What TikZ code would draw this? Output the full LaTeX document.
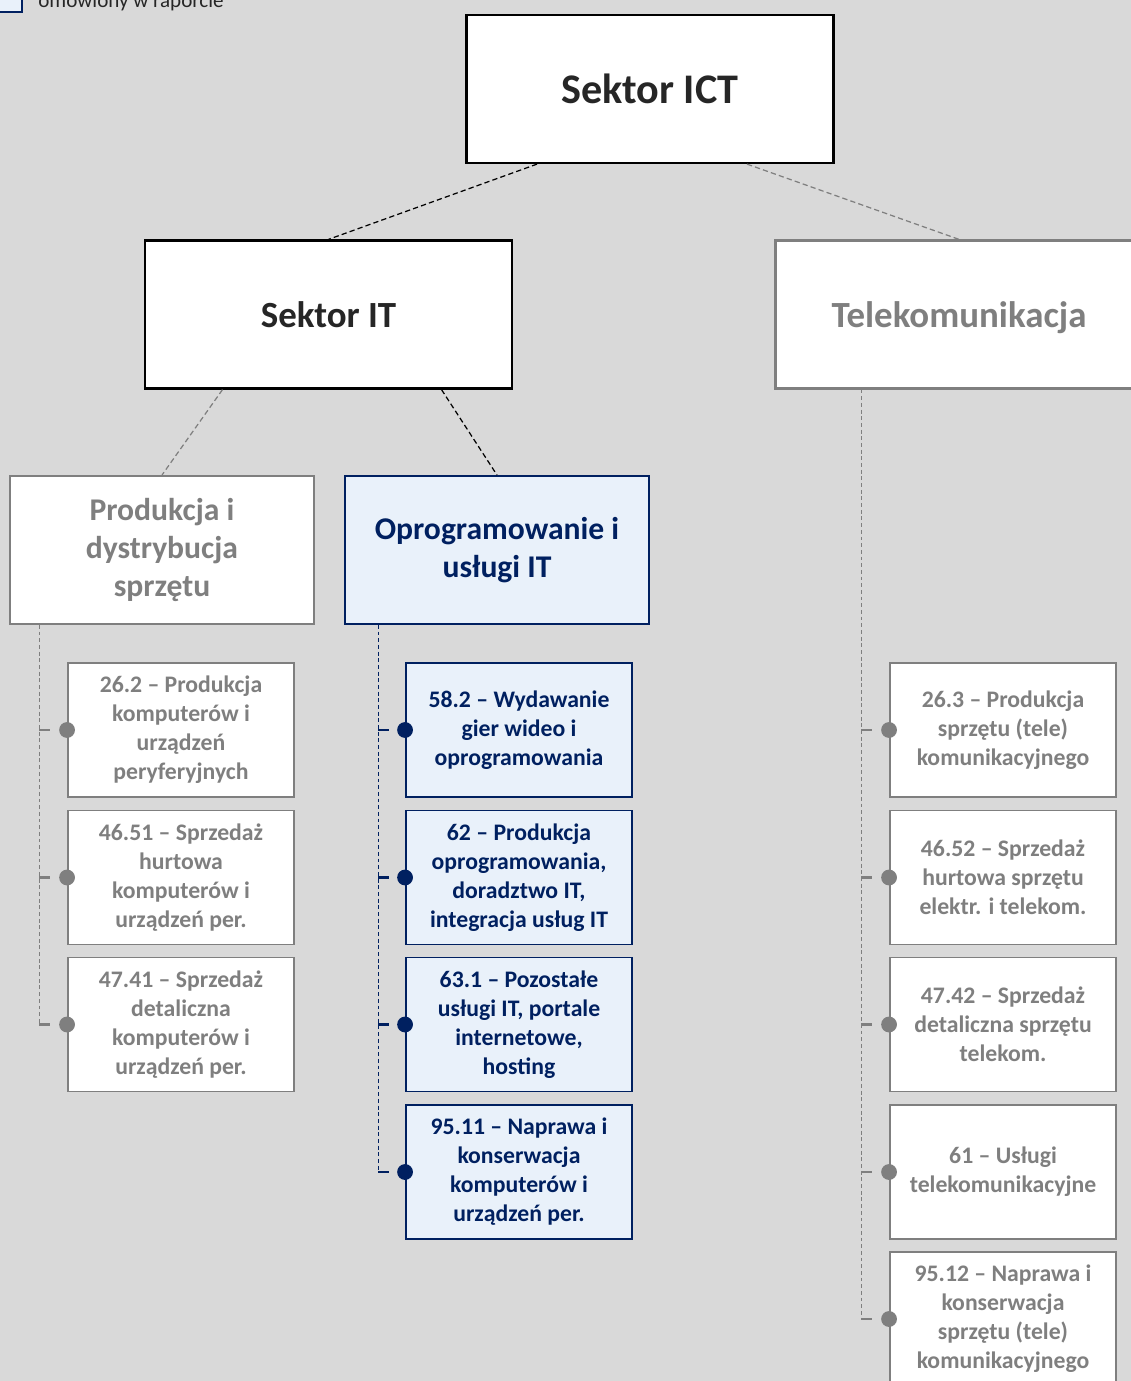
\documentclass[tikz,border=0pt]{standalone}
\usepackage{fontspec}
\setmainfont{Carlito}
\usepackage{xcolor}
\usepackage{tikz}
\usetikzlibrary{calc}

\definecolor{bggray}{HTML}{D9D9D9}
\definecolor{navy}{HTML}{002060}
\definecolor{paleblue}{HTML}{E9F1FA}
\definecolor{midgray}{HTML}{7F7F7F}
\definecolor{inkgray}{HTML}{262626}

\begin{document}
\begin{tikzpicture}[x=0.02cm, y=-0.02cm, every node/.style={font=\bfseries}]
    \tikzset{
        box/.style={draw, fill=white, align=center, inner sep=0pt},
        bigbox/.style={box, line width=1.3pt, minimum width=7.34cm, minimum height=2.96cm, text depth=0pt},
        midbox/.style={box, line width=1.1pt, minimum width=6.08cm, minimum height=2.96cm, font=\bfseries\fontsize{18}{21.5}\selectfont},
        smallbox/.style={box, line width=1.1pt, minimum width=4.52cm, minimum height=2.68cm, font=\bfseries\fontsize{13.5}{16.5}\selectfont},
        blackbox/.style={draw=black, text=inkgray},
        greybox/.style={draw=midgray, text=midgray},
        bluebox/.style={draw=navy, text=navy, fill=paleblue},
        dot/.style={circle, inner sep=0pt, minimum size=9pt},
        link/.style={line width=0.7pt, dash pattern=on 3pt off 1.8pt},
        trunk/.style={line width=0.6pt, dash pattern=on 2.2pt off 1.6pt},
        stub/.style={line width=1.2pt, dash pattern=on 6.2pt off 30pt},
    }

    \useasboundingbox (0,0) rectangle (1131,1381);
    \fill[bggray] (0,0) rectangle (1131,1381);

    % legend (cut by the page edge)
    \node[draw=navy, fill=paleblue, line width=1.1pt, minimum size=0.64cm, inner sep=0pt] (legbox) at (6,-4) {};
    \node[anchor=base west, inner sep=0pt, font=\fontsize{12}{14}\selectfont, text=inkgray] (legtxt) at (38,8) {omówiony w raporcie};

    % top levels
    \node[bigbox, blackbox, font=\bfseries\fontsize{24}{29}\selectfont] (ict) at (650,89) {Sektor ICT};
    \node[bigbox, blackbox, font=\bfseries\fontsize{21}{25}\selectfont] (it) at (328.5,314.5) {Sektor IT};
    \node[bigbox, greybox, font=\bfseries\fontsize{21}{25}\selectfont] (tel) at (959,314.5) {Telekomunikacja};

    \node[midbox, greybox] (prod) at (162,550) {Produkcja i\\dystrybucja\\sprzętu};
    \node[midbox, bluebox] (opr) at (497,550) {Oprogramowanie i\\usługi IT};

    % hardware
    \node[smallbox, greybox] (l1) at (181,730) {26.2 – Produkcja\\komputerów i\\urządzeń\\peryferyjnych};
    \node[smallbox, greybox] (l2) at (181,877.5) {46.51 – Sprzedaż\\hurtowa\\komputerów i\\urządzeń per.};
    \node[smallbox, greybox] (l3) at (181,1024.5) {47.41 – Sprzedaż\\detaliczna\\komputerów i\\urządzeń per.};

    % software and IT services
    \node[smallbox, bluebox] (m1) at (519,730) {58.2 – Wydawanie\\gier wideo i\\oprogramowania};
    \node[smallbox, bluebox] (m2) at (519,877.5) {62 – Produkcja\\oprogramowania,\\doradztwo IT,\\integracja usług IT};
    \node[smallbox, bluebox] (m3) at (519,1024.5) {63.1 – Pozostałe\\usługi IT, portale\\internetowe,\\hosting};
    \node[smallbox, bluebox] (m4) at (519,1172) {95.11 – Naprawa i\\konserwacja\\komputerów i\\urządzeń per.};

    % telecom
    \node[smallbox, greybox] (r1) at (1003,730) {26.3 – Produkcja\\sprzętu (tele)\\komunikacyjnego};
    \node[smallbox, greybox] (r2) at (1003,877.5) {46.52 – Sprzedaż\\hurtowa sprzętu\\elektr. i telekom.};
    \node[smallbox, greybox] (r3) at (1003,1024.5) {47.42 – Sprzedaż\\detaliczna sprzętu\\telekom.};
    \node[smallbox, greybox] (r4) at (1003,1172) {61 – Usługi\\telekomunikacyjne};
    \node[smallbox, greybox] (r5) at (1003,1319) {95.12 – Naprawa i\\konserwacja\\sprzętu (tele)\\komunikacyjnego};

    % tree links
    \draw[link] ($(ict.south)+(-113,0)$) -- (it.north);
    \draw[link, midgray] ($(ict.south)+(97,0)$) -- (tel.north);
    \draw[link, midgray] ($(it.south)+(-106,0)$) -- (prod.north);
    \draw[link] ($(it.south)+(113,0)$) -- (opr.north);

    \coordinate (lt) at ($(prod.south west)+(30,0)$);
    \coordinate (mt) at ($(opr.south west)+(34,0)$);
    \coordinate (rt) at ($(tel.south west)+(87,0)$);

    \draw[trunk, midgray] (lt) -- (lt |- l3.west);
    \foreach \c in {l1,l2,l3} {
        \draw[stub, midgray] (lt |- \c.west) -- (\c.west) node[dot, fill=midgray] {};
    }

    \draw[trunk, navy] (mt) -- (mt |- m4.west);
    \foreach \c in {m1,m2,m3,m4} {
        \draw[stub, navy] (mt |- \c.west) -- (\c.west) node[dot, fill=navy] {};
    }

    \draw[trunk, midgray] (rt) -- (rt |- r5.west);
    \foreach \c in {r1,r2,r3,r4,r5} {
        \draw[stub, midgray] (rt |- \c.west) -- (\c.west) node[dot, fill=midgray] {};
    }
\end{tikzpicture}
\end{document}
